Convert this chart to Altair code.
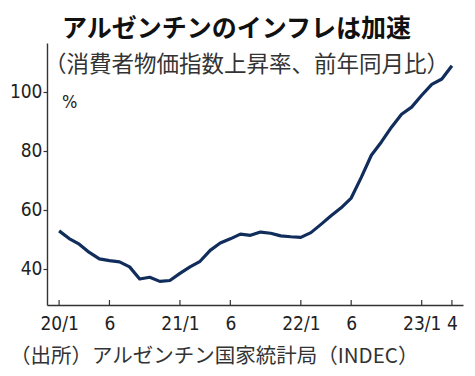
import altair as alt
import pandas as pd

# Monthly CPI YoY % (Jan 2020 .. Apr 2023)
month_index = list(range(40))
cpi_yoy = [
    52.9, 50.3, 48.4, 45.6, 43.4, 42.8, 42.4, 40.7, 36.6, 37.2, 35.8, 36.1,
    38.5, 40.7, 42.6, 46.3, 48.8, 50.2, 51.8, 51.4, 52.5, 52.1, 51.2, 50.9,
    50.7, 52.3, 55.1, 58.0, 60.7, 64.0, 71.0, 78.5, 83.0, 88.0, 92.4, 94.8,
    98.8, 102.5, 104.3, 108.8,
]
tick_pos = [0, 5, 12, 17, 24, 29, 36, 39]
tick_labels = ["20/1", "6", "21/1", "6", "22/1", "6", "23/1", "4"]
y_ticks = [40, 60, 80, 100]

title_text = "アルゼンチンのインフレは加速"
subtitle_text = "（消費者物価指数上昇率、前年同月比）"
unit_text = "%"
source_text = "（出所）アルゼンチン国家統計局（INDEC）"

W, H = 416, 262
NAVY = "#112d5c"
AX = "#333333"
TXT = "#222222"
NUMFONT = "'DejaVu Sans Condensed', Roboto, sans-serif"
JPFONT = "Noto Sans CJK JP"

df = pd.DataFrame({"m": month_index, "v": cpi_yoy})
ticks_df = pd.DataFrame({"m": tick_pos})

label_expr = ""
for p, l in zip(tick_pos, tick_labels):
    label_expr += f"datum.value == {p} ? '{l}' : "
label_expr += "''"

xscale = alt.Scale(domain=[-1.2, 40.1], nice=False, zero=False)
yscale = alt.Scale(domain=[27.8, 116.5], nice=False, zero=False)

line = alt.Chart(df).mark_line(color=NAVY, strokeWidth=3.2, strokeJoin="round").encode(
    x=alt.X("m:Q", scale=xscale,
            axis=alt.Axis(values=tick_pos, labelExpr=label_expr, title=None, grid=False,
                          tickSize=0, labelPadding=9, domainColor=AX, domainWidth=1.4,
                          labelFont=NUMFONT, labelFontSize=19, labelColor=TXT,
                          labelFlush=False, labelOverlap=False)),
    y=alt.Y("v:Q", scale=yscale,
            axis=alt.Axis(values=y_ticks, title=None, grid=False, tickSize=4,
                          tickColor=AX, tickWidth=1.2, labelPadding=1,
                          domainColor=AX, domainWidth=1.4,
                          labelFont=NUMFONT, labelFontSize=19, labelColor=TXT)),
)

xticks = alt.Chart(ticks_df).mark_rule(color=AX, strokeWidth=1.2).encode(
    x=alt.X("m:Q", scale=xscale),
    y=alt.value(H),
    y2=alt.value(H - 5),
)

def label(text, x, y, size, weight="normal", align="left", font=JPFONT, color=TXT):
    return alt.Chart(pd.DataFrame({"t": [text]})).mark_text(
        align=align, baseline="middle", fontSize=size, fontWeight=weight,
        font=font, color=color,
    ).encode(text="t:N", x=alt.value(x), y=alt.value(y))

title = label(title_text, 189.5, -14, 25, weight="bold", align="center", color="#111111")
subtitle = label(subtitle_text, -3, 22, 22.5, color="#333333")
unit = label(unit_text, 15, 60, 18, font=NUMFONT)
source = label(source_text, -37, 314, 20.5, color="#333333")

chart = alt.layer(xticks, line, title, subtitle, unit, source).properties(
    width=W, height=H,
    autosize=alt.AutoSizeParams(type="none"),
    padding={"left": 39, "top": 35, "right": 4, "bottom": 70},
    background="white",
).configure_view(stroke=None)

chart.save("out.html", embed_options={"renderer": "svg", "actions": False})
